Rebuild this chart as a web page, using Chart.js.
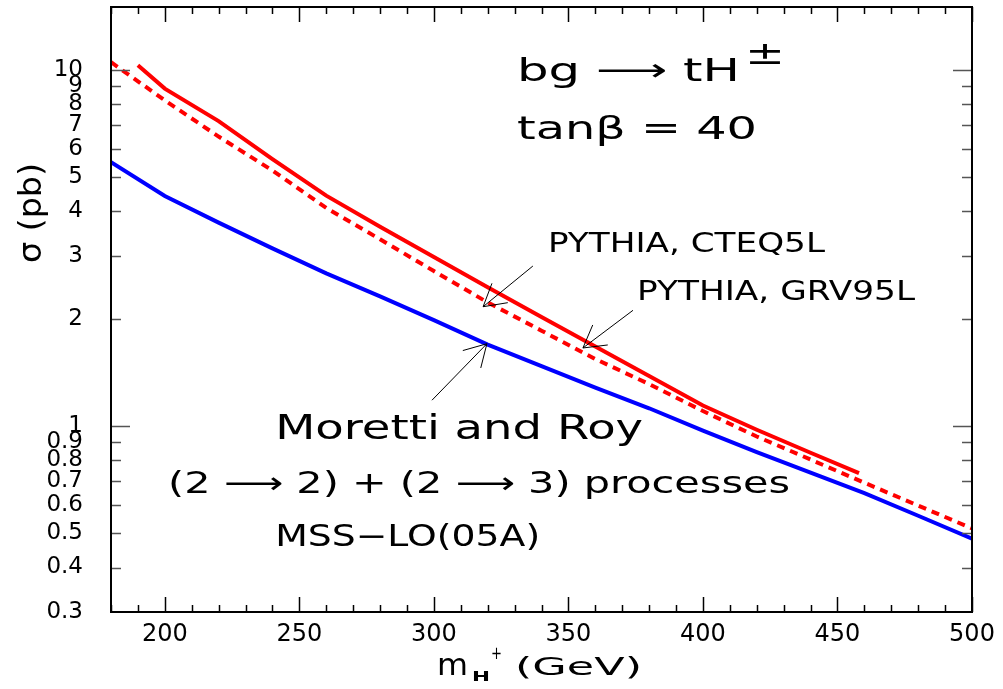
<!DOCTYPE html>
<html>
<head>
<meta charset="utf-8">
<script src="https://cdn.jsdelivr.net/npm/chart.js@4.4.1/dist/chart.umd.min.js"></script>
<style>
  html, body { margin: 0; padding: 0; background: #fff; }
  #wrap { width: 1003px; height: 689px; }
</style>
</head>
<body>
<div id="wrap"><canvas id="grafico" width="1003" height="689"></canvas></div>
<script>
// masas (GeV) y secciones eficaces (pb)
const masasGRV = [190, 200, 220, 240, 260, 280, 300, 320, 340, 360, 380, 400, 420, 440, 458];
const sigmaGRV = [10.3, 8.85, 7.17, 5.61, 4.43, 3.62, 2.98, 2.45, 2.02, 1.67, 1.38, 1.14, 0.975, 0.84, 0.736];

const masasCTEQ = [180, 200, 220, 240, 260, 280, 300, 320, 340, 360, 380, 400, 420, 440, 460, 480, 500];
const sigmaCTEQ = [10.5, 8.2, 6.49, 5.21, 4.09, 3.34, 2.72, 2.22, 1.85, 1.54, 1.31, 1.10, 0.933, 0.804, 0.692, 0.597, 0.515];

const masasMR = [180, 200, 220, 240, 260, 280, 300, 320, 340, 360, 380, 400, 420, 440, 460, 480, 500];
const sigmaMR = [5.5, 4.42, 3.72, 3.15, 2.68, 2.31, 1.98, 1.69, 1.47, 1.28, 1.12, 0.969, 0.844, 0.739, 0.647, 0.559, 0.482];

const xTicks = [180, 190, 200, 210, 220, 230, 240, 250, 260, 270, 280, 290, 300, 310, 320, 330, 340,
  350, 360, 370, 380, 390, 400, 410, 420, 430, 440, 450, 460, 470, 480, 490, 500];
const yTicks = [0.3, 0.4, 0.5, 0.6, 0.7, 0.8, 0.9, 1, 2, 3, 4, 5, 6, 7, 8, 9, 10];

const FUENTE = '"DejaVu Sans", sans-serif';

// textos dentro del grafico: [texto, masa, sigma, tamaño, ancho]
const textos = [
  ['bg \u27F6 tH', 330.9, 9.81, 32, 223],
  ['\u00B1', 415.6, 10.95, 32, 40],
  ['tan\u03B2 = 40', 330.9, 6.75, 32, 240],
  ['PYTHIA, CTEQ5L', 342.4, 3.21, 27, 277],
  ['PYTHIA, GRV95L', 375.5, 2.36, 27, 278],
  ['Moretti and Roy', 241.0, 0.968, 33, 368],
  ['(2 \u27F6 2) + (2 \u27F6 3) processes', 201.2, 0.683, 30, 622],
  ['MSS\u2212LO(05A)', 241.0, 0.483, 30, 265]
];

// flechas: [masa cola, sigma cola, masa punta, sigma punta]
const flechas = [
  [336.8, 2.81, 318.3, 2.16],
  [374.0, 2.11, 355.4, 1.654],
  [299.3, 1.18, 319.7, 1.70]
];

function textoEstirado(ctx, txt, x, y, size, ancho, peso) {
  ctx.font = (peso || '') + ' ' + size + 'px ' + FUENTE;
  const w = ctx.measureText(txt).width;
  ctx.save();
  ctx.translate(x, y);
  ctx.scale(ancho / w, 1);
  ctx.fillText(txt, 0, 0);
  ctx.restore();
}

function dibujarFlecha(ctx, x1, y1, x2, y2) {
  const ang = Math.atan2(y1 - y2, x1 - x2);
  const largo = 25;
  ctx.beginPath();
  ctx.moveTo(x1, y1);
  ctx.lineTo(x2, y2);
  [-Math.PI / 6, Math.PI / 6].forEach(d => {
    ctx.moveTo(x2, y2);
    ctx.lineTo(x2 + largo * Math.cos(ang + d), y2 + largo * Math.sin(ang + d));
  });
  ctx.stroke();
}

const decoracion = {
  id: 'decoracion',
  beforeDraw(chart) {
    const ctx = chart.ctx;
    ctx.save();
    ctx.fillStyle = '#fff';
    ctx.fillRect(0, 0, chart.width, chart.height);
    ctx.restore();
  },
  afterDraw(chart) {
    const ctx = chart.ctx;
    const a = chart.chartArea;
    const x = chart.scales.x;
    const y = chart.scales.y;
    ctx.save();

    // marcas hacia adentro
    ctx.strokeStyle = '#000';
    ctx.lineWidth = 1.5;
    xTicks.forEach(v => {
      const px = Math.round(x.getPixelForValue(v)) + 0.5;
      const l = v % 50 === 0 ? 15 : 7;
      ctx.beginPath();
      ctx.moveTo(px, a.bottom); ctx.lineTo(px, a.bottom - l);
      ctx.moveTo(px, a.top); ctx.lineTo(px, a.top + l);
      ctx.stroke();
    });
    ctx.strokeStyle = '#555';
    yTicks.forEach(v => {
      if (v === 0.3) return;
      const py = Math.round(y.getPixelForValue(v)) + 0.5;
      const l = (v === 1 || v === 10) ? 19 : 10;
      ctx.beginPath();
      ctx.moveTo(a.left, py); ctx.lineTo(a.left + l, py);
      ctx.moveTo(a.right, py); ctx.lineTo(a.right - l, py);
      ctx.stroke();
    });

    // marco
    ctx.strokeStyle = '#000';
    ctx.lineWidth = 2;
    ctx.strokeRect(a.left, a.top, a.right - a.left, a.bottom - a.top);

    // textos
    ctx.fillStyle = '#000';
    ctx.textBaseline = 'middle';
    textos.forEach(t => {
      textoEstirado(ctx, t[0], x.getPixelForValue(t[1]), y.getPixelForValue(t[2]), t[3], t[4]);
    });

    // flechas
    ctx.strokeStyle = '#000';
    ctx.lineWidth = 1;
    flechas.forEach(f => {
      dibujarFlecha(ctx, x.getPixelForValue(f[0]), y.getPixelForValue(f[1]),
        x.getPixelForValue(f[2]), y.getPixelForValue(f[3]));
    });

    // titulo eje y
    ctx.save();
    ctx.translate(33, 213);
    ctx.rotate(-Math.PI / 2);
    ctx.textAlign = 'center';
    ctx.font = '32px ' + FUENTE;
    const wy = ctx.measureText('\u03C3 (pb)').width;
    ctx.scale(100 / wy, 1);
    ctx.fillText('\u03C3 (pb)', 0, 0);
    ctx.restore();

    // titulo eje x
    ctx.textBaseline = 'alphabetic';
    textoEstirado(ctx, 'm', 437, 675, 31, 31);
    textoEstirado(ctx, 'H', 472, 681, 14, 18, 'bold');
    textoEstirado(ctx, '+', 491, 659, 17, 11);
    textoEstirado(ctx, '(GeV)', 515, 675, 25, 127);

    ctx.restore();
  }
};

function crearGrafico() {
  const ctx = document.getElementById('grafico').getContext('2d');
  new Chart(ctx, {
    type: 'line',
    data: {
      datasets: [
        {
          label: 'PYTHIA, GRV95L',
          data: masasGRV.map((m, i) => ({ x: m, y: sigmaGRV[i] })),
          borderColor: '#ff0000',
          borderWidth: 4,
          pointRadius: 0,
          tension: 0
        },
        {
          label: 'PYTHIA, CTEQ5L',
          data: masasCTEQ.map((m, i) => ({ x: m, y: sigmaCTEQ[i] })),
          borderColor: '#ff0000',
          borderWidth: 4,
          borderDash: [8, 6],
          pointRadius: 0,
          tension: 0
        },
        {
          label: 'Moretti and Roy',
          data: masasMR.map((m, i) => ({ x: m, y: sigmaMR[i] })),
          borderColor: '#0000ff',
          borderWidth: 4,
          pointRadius: 0,
          tension: 0
        }
      ]
    },
    options: {
      responsive: false,
      animation: false,
      devicePixelRatio: 1,
      layout: { padding: { left: 0, right: 31, top: 7, bottom: 0 } },
      plugins: { legend: { display: false }, tooltip: { enabled: false } },
      scales: {
        x: {
          type: 'linear',
          min: 180,
          max: 500,
          grid: { display: false, drawTicks: false },
          border: { display: false },
          afterBuildTicks: s => { s.ticks = xTicks.map(v => ({ value: v })); },
          afterFit: s => { s.height = 77; s.paddingLeft = 0; s.paddingRight = 0; },
          ticks: {
            autoSkip: false,
            maxRotation: 0,
            padding: 8,
            color: '#000',
            font: { family: 'DejaVu Sans', size: 24 },
            callback: v => (v % 50 === 0 ? String(v) : '')
          }
        },
        y: {
          type: 'logarithmic',
          min: 0.3,
          max: 15,
          grid: { display: false, drawTicks: false },
          border: { display: false },
          afterBuildTicks: s => { s.ticks = yTicks.map(v => ({ value: v })); },
          afterFit: s => { s.width = 111; s.paddingTop = 0; s.paddingBottom = 0; },
          ticks: {
            autoSkip: false,
            padding: 28,
            color: '#000',
            font: { family: 'DejaVu Sans', size: 23 },
            callback: v => String(v)
          }
        }
      }
    },
    plugins: [decoracion]
  });
}

document.addEventListener('DOMContentLoaded', crearGrafico);
</script>
</body>
</html>
